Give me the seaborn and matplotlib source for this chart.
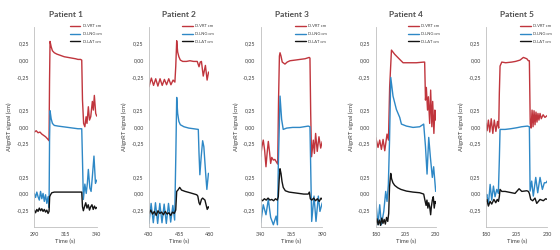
import matplotlib
matplotlib.use("Agg")
import pandas as pd
import matplotlib.pyplot as plt
import seaborn as sns

# Breath-hold traces (cm), one list of times and one of values per channel.
# Patient 1
P1_VRT_T = [290, 291.5, 293, 294.5, 296, 297.5, 299, 300.5, 301.8, 302.2, 302.6, 303.5, 304.5, 306, 308, 311, 314,
            317, 320, 323, 325, 327, 328, 328.6, 329.5, 330.5, 331.5, 332.2, 333.3, 334.2, 335.2, 336.5, 337.3,
            338.1, 339.2, 340]
P1_VRT = [-1.08, -1.06, -1.09, -1.08, -1.11, -1.13, -1.15, -1.18, -1.21, -0.3, 0.28, 0.2, 0.14, 0.11, 0.09, 0.07,
          0.05, 0.04, 0.03, 0.02, 0.01, 0.01, 0.0, -0.6, -0.95, -1.0, -0.85, -0.95, -0.7, -0.9, -0.85, -0.62, -0.75,
          -0.53, -0.8, -0.84]
P1_LNG_T = [290, 291, 292, 293, 294, 295, 296, 297, 298, 299, 300, 301, 301.8, 302.2, 302.6, 303.5, 304.5, 306, 309,
            313, 317, 321, 325, 328, 328.6, 329.3, 330.5, 331.6, 332.5, 333.3, 334.5, 335.5, 336.5, 337.8, 339, 340]
P1_LNG = [-1.0, -1.06, -0.98, -1.05, -1.1, -0.97, -1.08, -1.0, -1.12, -1.02, -1.15, -1.05, -1.21, -0.2, 0.24, 0.12,
          0.05, 0.02, 0.01, 0.0, -0.01, -0.02, -0.03, -0.03, -0.5, -1.09, -0.86, -1.0, -0.85, -0.64, -0.92, -0.97,
          -0.75, -0.44, -0.85, -0.8]
P1_LAT_T = [290, 291, 292, 293, 294, 295, 296, 297, 298, 299, 300, 301, 301.8, 302.3, 303, 304, 306, 310, 315, 320,
            325, 328, 328.6, 329.3, 330.2, 331.2, 332.2, 333.2, 334.2, 335.2, 336.2, 337.2, 338.2, 339.2, 340]
P1_LAT = [-0.25, -0.29, -0.24, -0.27, -0.22, -0.26, -0.23, -0.27, -0.24, -0.28, -0.25, -0.3, -0.27, -0.05, -0.02,
          0.01, 0.02, 0.02, 0.02, 0.02, 0.02, 0.02, -0.2, -0.26, -0.2, -0.14, -0.22, -0.17, -0.25, -0.2, -0.17,
          -0.24, -0.19, -0.23, -0.21]

# Patient 2
P2_VRT_T = [430, 432, 433.8, 435.6, 437.4, 439.2, 441, 442.8, 444.6, 446.4, 448.2, 450, 451.5, 452.2, 453, 453.8,
            454.8, 456, 458, 461, 464, 467, 470, 471.5, 472.5, 473.5, 475, 476.8, 478.2, 479.4, 480]
P2_VRT = [-0.40, -0.27, -0.38, -0.28, -0.39, -0.28, -0.38, -0.29, -0.37, -0.28, -0.37, -0.30, -0.33, -0.1, 0.29,
          0.12, 0.05, 0.0, -0.02, -0.02, -0.01, -0.02, -0.02, -0.10, -0.03, -0.02, -0.24, -0.08, -0.30, -0.18, -0.2]
P2_LNG_T = [430, 431.8, 433.6, 435.4, 437.2, 439, 440.8, 442.6, 444.4, 446.2, 448, 449.8, 451.3, 452.3, 453, 453.8,
            454.8, 456, 459, 463, 467, 470.9, 471.5, 472.2, 473.3, 474.5, 475.5, 477, 478, 479.3, 480]
P2_LNG = [-1.45, -1.15, -1.44, -1.14, -1.45, -1.15, -1.44, -1.16, -1.45, -1.15, -1.43, -1.18, -1.4, -0.4, 0.44,
          0.2, 0.08, 0.03, 0.0, -0.02, -0.03, -0.04, -0.4, -0.72, -0.45, -0.21, -0.3, -0.7, -0.94, -0.7, -0.7]
P2_LAT_T = [430, 431.5, 433, 434.5, 436, 437.5, 439, 440.5, 442, 443.5, 445, 446.5, 448, 449.5, 451, 452.2, 453,
            454, 455.5, 457, 460, 464, 469.6, 470.5, 471.5, 472.3, 473.5, 474.5, 476.4, 478.3, 479.2, 480]
P2_LAT = [-0.3, -0.25, -0.31, -0.27, -0.33, -0.26, -0.3, -0.28, -0.32, -0.27, -0.31, -0.29, -0.33, -0.28, -0.3,
          -0.25, 0.03, 0.05, 0.09, 0.05, 0.03, 0.01, -0.02, -0.04, -0.14, -0.17, -0.09, -0.07, -0.1, -0.24, -0.2,
          -0.22]

# Patient 3
P3_VRT_T = [340, 341, 342.1, 343.2, 344.3, 345.2, 346.2, 347.2, 348.1, 349, 350.3, 351.5, 352.8, 353.8, 354.5,
            355.2, 355.7, 356.5, 357.5, 359.7, 361.5, 363.8, 368, 371.9, 376, 379.4, 380, 380.6, 381.3, 382.7, 383.6,
            384.6, 385.9, 387.3, 388.7, 390]
P3_VRT = [-1.45, -1.3, -1.2, -1.35, -1.6, -1.4, -1.22, -1.38, -1.55, -1.46, -1.5, -1.49, -1.53, -1.56, -0.6, 0.06,
          0.11, 0.06, -0.03, -0.06, -0.03, -0.01, 0.0, 0.01, 0.02, 0.04, 0.03, -0.8, -1.45, -1.2, -1.4, -1.1, -1.37,
          -1.15, -1.32, -1.22]
P3_LNG_T = [340, 342.1, 344.3, 346.2, 348.1, 350.3, 352.5, 353.6, 354.3, 355.7, 357, 358.3, 361.1, 366, 371.9, 378.6,
            380, 381.4, 383.3, 384.9, 386.8, 388.1, 390]
P3_LNG = [-1.44, -1.17, -1.32, -1.09, -1.36, -1.47, -1.34, -1.47, -0.6, 0.46, 0.11, -0.04, -0.02, -0.01, -0.01,
          0.01, 0.0, -1.42, -1.04, -1.42, -1.04, -1.27, -1.14]
P3_LAT_T = [340, 341.5, 343, 344.5, 346, 347.5, 349, 350.5, 352, 353.5, 354.3, 355, 355.7, 356.5, 357.3, 358.3, 360,
            363, 367, 371, 375, 378.6, 379.5, 380.3, 381.5, 383, 384.5, 386, 387.5, 389, 390]
P3_LAT = [-0.09, -0.11, -0.08, -0.1, -0.07, -0.1, -0.09, -0.11, -0.08, -0.1, -0.05, 0.2, 0.37, 0.3, 0.18, 0.09,
          0.04, 0.02, 0.01, 0.0, -0.01, -0.01, 0.02, -0.08, -0.1, -0.07, -0.11, -0.08, -0.12, -0.07, -0.09]

# Patient 4
P4_VRT_T = [180, 181.9, 183.3, 184.7, 186.1, 187.5, 189.4, 190.6, 191.6, 193.1, 195.8, 200, 202.8, 208.3, 213.9,
            220, 220.8, 221.5, 222.2, 223.2, 223.9, 225, 225.8, 226.8, 227.5, 228.5, 229.3, 230]
P4_VRT = [-1.16, -1.31, -1.2, -1.34, -1.19, -1.36, -1.11, -1.2, -0.4, 0.15, 0.087, 0.01, -0.04, -0.04, -0.04,
          -0.03, -0.03, -0.6, -0.41, -0.75, -0.55, -0.95, -0.45, -1.0, -0.62, -1.1, -0.75, -0.9]
P4_LNG_T = [180, 181.9, 183.3, 184.7, 186.7, 188.3, 189.4, 190.5, 191.5, 192.5, 194.4, 197.2, 200, 201.4, 205.6,
            211.1, 216.7, 220, 221.5, 222.8, 224.2, 225.6, 227.2, 228.3, 230]
P4_LNG = [-1.12, -1.47, -1.17, -1.47, -1.27, -0.97, -1.12, -0.87, -0.2, 0.74, 0.46, 0.26, 0.14, 0.04, 0.01, -0.01,
          0.0, 0.04, -0.3, -0.71, -0.16, -0.46, -0.76, -0.6, -0.97]
P4_LAT_T = [180, 181, 182, 183, 184, 185, 186, 187, 188, 189, 190, 190.8, 191.5, 192.5, 193.2, 194.3, 195.8, 198.3,
            201, 205.6, 211, 216.7, 220, 221, 222, 222.7, 223.5, 224.2, 225, 225.8, 226.4, 227.2, 228, 228.8, 229.5,
            230]
P4_LAT = [-0.44, -0.38, -0.47, -0.4, -0.48, -0.37, -0.45, -0.39, -0.46, -0.36, -0.42, -0.3, 0.1, 0.3, 0.22, 0.16,
          0.12, 0.085, 0.06, 0.035, 0.02, 0.01, -0.01, -0.1, -0.18, -0.1, -0.22, -0.14, -0.2, -0.32, -0.2, -0.1,
          -0.05, -0.22, -0.12, -0.15]

# Patient 5
P5_VRT_T = [180, 180.8, 181.9, 183, 184.2, 185.5, 186.7, 188, 189.3, 190.3, 190.8, 191.4, 192.8, 196, 200.9, 204,
            207.7, 210.4, 213.2, 214.5, 215.3, 216, 216.7, 217.5, 218.3, 219.1, 219.9, 220.7, 221.5, 222.3, 223.1,
            224, 225, 226.5, 228, 230]
P5_VRT = [-0.95, -1.06, -0.9, -1.08, -0.88, -1.1, -0.9, -1.07, -0.92, -1.02, -0.5, -0.09, -0.03, -0.04, -0.03,
          -0.02, 0.0, 0.04, 0.02, -0.01, -0.01, -0.95, -1.02, -0.75, -1.0, -0.76, -0.97, -0.78, -0.93, -0.8, -0.9,
          -0.8, -0.88, -0.82, -0.86, -0.83]
P5_LNG_T = [180, 180.6, 181.9, 183.3, 184.6, 186, 187.3, 188.7, 190, 190.8, 191.4, 195.5, 200, 205, 209, 213.7,
            215.3, 215.9, 217.2, 218.5, 220.5, 222.1, 224, 225.9, 227.5, 228.9, 230]
P5_LNG = [-1.05, -1.015, -1.165, -0.865, -1.1, -0.89, -1.05, -0.94, -1.0, -0.5, -0.04, -0.04, -0.03, -0.015, 0.0,
          0.01, 0.0, -0.965, -0.815, -1.04, -0.76, -0.99, -0.76, -0.94, -0.84, -0.84, -0.81]
P5_LAT_T = [180, 180.6, 181.9, 183.3, 184.6, 186.4, 187.9, 189.1, 190.1, 190.8, 191.4, 192.8, 195.5, 200.9, 203.6,
            206.9, 209.1, 213.2, 214.5, 215.3, 216.4, 218, 219.9, 221.3, 224, 226.7, 228.5, 230]
P5_LAT = [-0.12, -0.09, -0.19, -0.12, -0.16, -0.09, -0.14, -0.09, -0.12, -0.05, 0.06, 0.03, 0.03, 0.01, 0.0, 0.07,
          0.03, 0.04, 0.03, 0.0, -0.09, -0.11, -0.07, -0.15, -0.09, -0.11, -0.08, -0.09]

PATIENTS = ["Patient 1", "Patient 2", "Patient 3", "Patient 4", "Patient 5"]
CHANNELS = ["D.VRT cm", "D.LNG cm", "D.LAT cm"]
X_TICKS = [[290, 315, 340], [430, 455, 480], [340, 365, 390], [180, 205, 230], [180, 205, 230]]
# each channel is drawn on its own band of the shared axis
OFFSETS = {"D.VRT cm": 2.0, "D.LNG cm": 1.0, "D.LAT cm": 0.0}

traces = [
    ("Patient 1", "D.VRT cm", P1_VRT_T, P1_VRT), ("Patient 1", "D.LNG cm", P1_LNG_T, P1_LNG),
    ("Patient 1", "D.LAT cm", P1_LAT_T, P1_LAT),
    ("Patient 2", "D.VRT cm", P2_VRT_T, P2_VRT), ("Patient 2", "D.LNG cm", P2_LNG_T, P2_LNG),
    ("Patient 2", "D.LAT cm", P2_LAT_T, P2_LAT),
    ("Patient 3", "D.VRT cm", P3_VRT_T, P3_VRT), ("Patient 3", "D.LNG cm", P3_LNG_T, P3_LNG),
    ("Patient 3", "D.LAT cm", P3_LAT_T, P3_LAT),
    ("Patient 4", "D.VRT cm", P4_VRT_T, P4_VRT), ("Patient 4", "D.LNG cm", P4_LNG_T, P4_LNG),
    ("Patient 4", "D.LAT cm", P4_LAT_T, P4_LAT),
    ("Patient 5", "D.VRT cm", P5_VRT_T, P5_VRT), ("Patient 5", "D.LNG cm", P5_LNG_T, P5_LNG),
    ("Patient 5", "D.LAT cm", P5_LAT_T, P5_LAT),
]

rows = []
for patient, channel, times, values in traces:
    for t, v in zip(times, values):
        rows.append({"patient": patient, "channel": channel, "time": t, "value": v})
df = pd.DataFrame(rows)
df["band_y"] = df["value"] + df["channel"].map(OFFSETS)

palette = {"D.VRT cm": "#C0353D", "D.LNG cm": "#2E88C6", "D.LAT cm": "#141414"}

sns.set_style("white")
plt.rcParams["font.family"] = ["Lato", "DejaVu Sans"]

fig = plt.figure(figsize=(5.6, 2.5), dpi=100)
lefts = [0.0613, 0.266, 0.4655, 0.671, 0.868]
widths = [0.1114, 0.1077, 0.110, 0.107, 0.1095]

# y ticks every 0.25, labelled relative to each band
y_ticks = [-0.5 + 0.25 * i for i in range(13)]
y_labels = []
for y in y_ticks:
    rel = y - round(y)
    if abs(abs(rel) - 0.5) < 1e-9:
        y_labels.append("")
    else:
        y_labels.append(f"{rel:.2f}".replace(".", ","))

for i, patient in enumerate(PATIENTS):
    ax = fig.add_axes([lefts[i], 0.093, widths[i], 0.80])
    sub = df[df["patient"] == patient]
    sns.lineplot(data=sub, x="time", y="band_y", hue="channel", hue_order=CHANNELS, palette=palette,
                 estimator=None, sort=False, linewidth=1.0, ax=ax)
    ax.set_xlim(X_TICKS[i][0], X_TICKS[i][-1])
    ax.set_ylim(-0.5, 2.5)
    ax.set_xticks(X_TICKS[i])
    ax.set_yticks(y_ticks)
    ax.set_yticklabels(y_labels)
    ax.tick_params(axis="both", labelsize=3.9, labelcolor="#404040", length=1.8, width=0.5, pad=2,
                   color="#BFBFBF")
    for side in ["top", "right"]:
        ax.spines[side].set_visible(False)
    for side in ["left", "bottom"]:
        ax.spines[side].set_color("#BFBFBF")
        ax.spines[side].set_linewidth(0.6)
    ax.set_xlabel("Time (s)", fontsize=4.2, color="#404040", labelpad=1.5)
    ax.set_ylabel("AlignRT signal (cm)", fontsize=4.2, color="#404040", labelpad=3)
    ax.set_title(patient, fontsize=6, color="#505050", fontweight="bold", pad=7)
    handles, labels = ax.get_legend_handles_labels()
    ax.legend(handles, labels, loc="upper right", bbox_to_anchor=(1.1, 1.02), frameon=False, fontsize=3.0,
              handlelength=2.6, labelspacing=0.9, handletextpad=0.5, borderaxespad=0.0,
              labelcolor="#404040")

fig.savefig("out.png", dpi=100)
